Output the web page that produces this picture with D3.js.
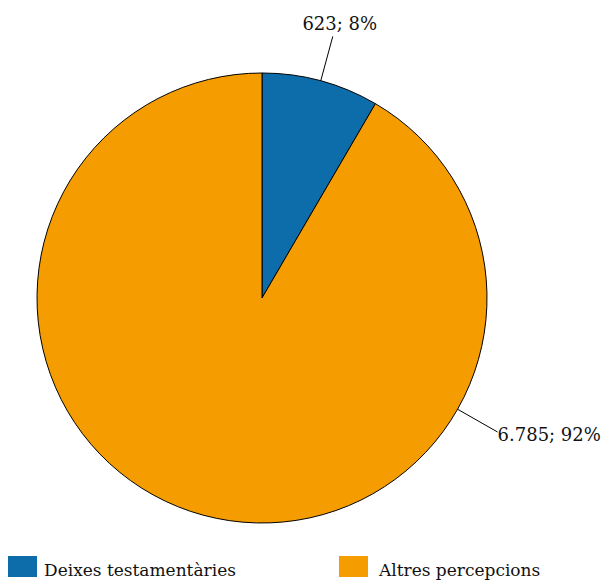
<!DOCTYPE html>
<html>
<head>
<meta charset="utf-8">
<script src="https://cdn.jsdelivr.net/npm/d3@7"></script>
<style>
  html, body { margin: 0; padding: 0; background: #fff; }
  svg { display: block; }
  text { font-family: "DejaVu Serif", serif; fill: #111; }
</style>
</head>
<body>
<svg id="chart" width="606" height="580"></svg>
<script>
// Percepcions: deixes testamentàries vs. altres percepcions
const categories = ["Deixes testamentàries", "Altres percepcions"];
const values = [623, 6785];
const valueLabels = ["623; 8%", "6.785; 92%"];
const colors = ["#0d6dab", "#f59d00"];

const W = 606, H = 580;
const cx = 262, cy = 298, R = 225;

const svg = d3.select("#chart");

const pie = d3.pie().sort(null).value(d => d)(values);
const arc = d3.arc().innerRadius(0).outerRadius(R);

const g = svg.append("g").attr("transform", `translate(${cx},${cy})`);

g.selectAll("path.slice")
  .data(pie)
  .join("path")
  .attr("class", "slice")
  .attr("d", arc)
  .attr("fill", (d, i) => colors[i])
  .attr("stroke", "#000")
  .attr("stroke-width", 1);

// Leader lines: radial, from the rim outward
const labelAngle = (d, i) => i === 0 ? (d.startAngle + d.endAngle) / 2 : d.startAngle + (d.endAngle - d.startAngle) * 0.271;
const lead = 46;
const pt = (a, r) => [r * Math.sin(a), -r * Math.cos(a)];

pie.forEach((d, i) => {
  const a = labelAngle(d, i);
  const p0 = pt(a, R), p1 = pt(a, R + lead);
  g.append("line")
    .attr("x1", p0[0]).attr("y1", p0[1])
    .attr("x2", p1[0]).attr("y2", p1[1])
    .attr("stroke", "#000").attr("stroke-width", 1);
  const t = g.append("text")
    .attr("font-size", 18)
    .text(valueLabels[i]);
  if (i === 0) {
    t.attr("x", p1[0] + 7).attr("y", p1[1] - 6).attr("text-anchor", "middle");
  } else {
    t.attr("x", p1[0]).attr("y", p1[1] + 9).attr("text-anchor", "start");
  }
});

// Legend
const legendX = [8, 339];
const legendTextDx = [36, 40];
const leg = svg.selectAll("g.legend")
  .data(categories)
  .join("g")
  .attr("class", "legend")
  .attr("transform", (d, i) => `translate(${legendX[i]},556)`);
leg.append("rect")
  .attr("width", 29).attr("height", 21)
  .attr("fill", (d, i) => colors[i]);
leg.append("text")
  .attr("x", (d, i) => legendTextDx[i]).attr("y", 20)
  .attr("font-size", 17)
  .text(d => d);
</script>
</body>
</html>
